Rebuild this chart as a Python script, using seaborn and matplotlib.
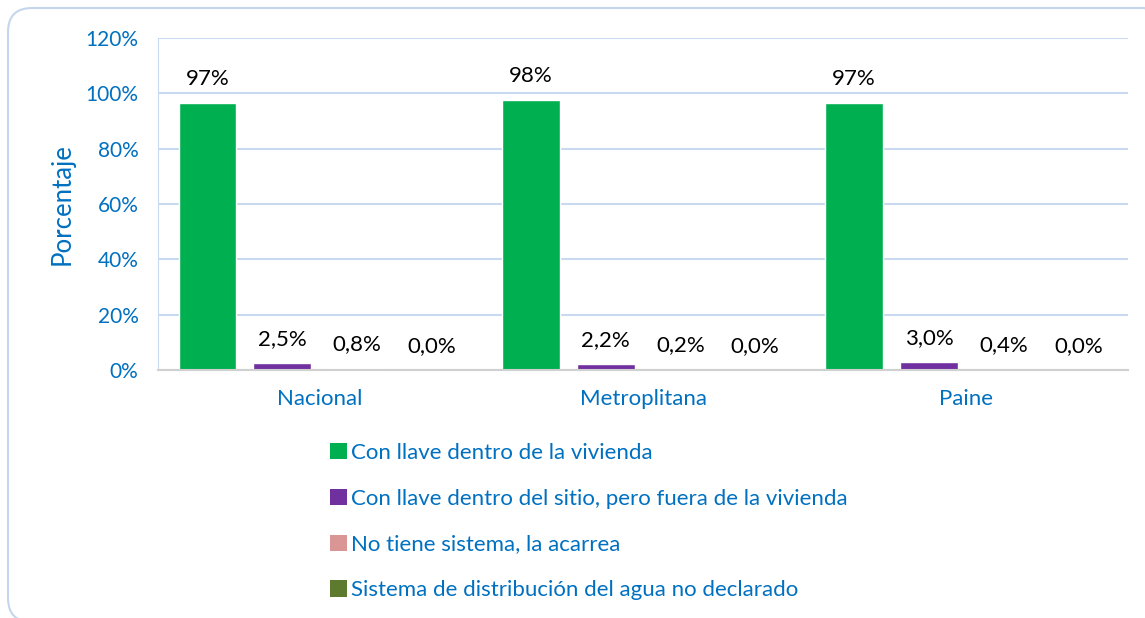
import numpy as np
import pandas as pd
import matplotlib
matplotlib.use('Agg')
import matplotlib.pyplot as plt
import seaborn as sns
from matplotlib.patches import FancyBboxPatch, Patch
from matplotlib.transforms import IdentityTransform

# Data
categorias = ['Nacional', 'Metroplitana', 'Paine']
series = ['Con llave dentro de la vivienda',
          'Con llave dentro del sitio, pero fuera de la vivienda',
          'No tiene sistema, la acarrea',
          'Sistema de distribución del agua no declarado']
con_llave_vivienda = [96.6, 97.6, 96.6]
con_llave_sitio = [2.5, 2.2, 3.0]
acarrea = [0.8, 0.2, 0.4]
no_declarado = [0.0, 0.0, 0.0]
yticks = [0, 20, 40, 60, 80, 100, 120]

colores = ['#00B050', '#7030A0', '#DA9694', '#5E7A2E']
azul = '#0070C0'

df = pd.DataFrame({
    'categoria': categorias * 4,
    'serie': [s for s in series for _ in categorias],
    'valor': con_llave_vivienda + con_llave_sitio + acarrea + no_declarado,
})

sns.set_style('white')
plt.rcParams['font.family'] = ['Lato', 'DejaVu Sans']

fig = plt.figure(figsize=(11.45, 6.18), dpi=100)
ax = fig.add_axes([158 / 1145, 1 - 370 / 618, (1128 - 158) / 1145, (370 - 38) / 618])

sns.barplot(data=df, x='categoria', y='valor', hue='serie', hue_order=series,
            order=categorias, palette=colores, width=0.925, gap=0.225,
            saturation=1, legend=False, ax=ax, errorbar=None)

# Value labels
for i, cont in enumerate(ax.containers):
    vals = df[df['serie'] == series[i]]['valor'].tolist()
    if i == 0:
        labs = [f'{v:.0f}%' for v in vals]
    else:
        labs = [f'{v:.1f}%'.replace('.', ',') for v in vals]
    ax.bar_label(cont, labels=labs, padding=10, fontsize=16, color='black')

ax.set_ylim(0, 120)
ax.set_xlim(-0.5, 2.5)
ax.set_yticks(yticks)
ax.set_yticklabels([f'{t}%' for t in yticks], color=azul, fontsize=15)
ax.tick_params(axis='y', length=0, pad=14)
ax.tick_params(axis='x', length=0, pad=14, labelsize=16, labelcolor=azul)
ax.set_xlabel('')
ax.set_ylabel('Porcentaje', color=azul, fontsize=18.5, labelpad=8)
ax.yaxis.grid(True, color='#C9DAF0', linewidth=1.5)
ax.set_axisbelow(True)
for s in ['top', 'right']:
    ax.spines[s].set_visible(False)
ax.spines['left'].set_color('#C9DAF0')
ax.spines['bottom'].set_color('#D0D0D0')
ax.spines['bottom'].set_linewidth(1.5)

# Legend
handles = [Patch(facecolor=c, edgecolor='none') for c in colores]
fig.legend(handles, series, loc='upper left',
           bbox_to_anchor=(330 / 1145, 1 - 443 / 618), frameon=False,
           fontsize=16, labelcolor=azul, handlelength=0.75, handleheight=0.75,
           handletextpad=0.2, labelspacing=1.16, borderpad=0, borderaxespad=0)

# Rounded border
borde = FancyBboxPatch((8, -4), 1160, 614, boxstyle='round,pad=0,rounding_size=24',
                       transform=IdentityTransform(), facecolor='none',
                       edgecolor='#C5D6EC', linewidth=1.5, clip_on=False)
fig.add_artist(borde)

fig.savefig('out.png', dpi=100)
